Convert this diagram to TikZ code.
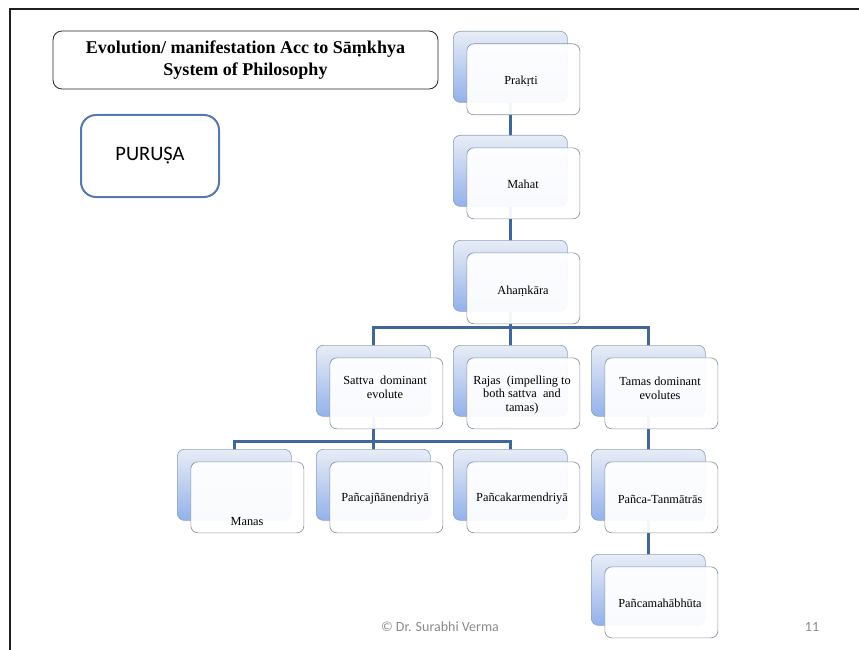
\documentclass[tikz,border=0pt]{standalone}
\usepackage{fontspec}
\setmainfont{Liberation Serif}
\newfontfamily\calib{Carlito}
\usetikzlibrary{backgrounds}
\definecolor{conncol}{HTML}{41679A}
\definecolor{backtop}{HTML}{E8EDF6}
\definecolor{backbot}{HTML}{93B1EA}
\definecolor{backline}{HTML}{8FA2C2}
\definecolor{frontline}{HTML}{8A96A6}
\definecolor{purline}{HTML}{5579AD}
\definecolor{footgray}{HTML}{8A8A8A}
\tikzset{
  backbox/.style={rounded corners=7pt, draw=backline, line width=0.7pt,
    top color=backtop, bottom color=backbot, minimum width=114pt,
    minimum height=71pt, inner sep=0pt, anchor=north west},
  frontbox/.style={rounded corners=7pt, draw=frontline, line width=0.7pt,
    fill=white, fill opacity=0.94, minimum width=113pt,
    minimum height=71pt, inner sep=0pt, anchor=north west},
  lbl/.style={font=\fontsize{12.3}{13.8}\selectfont, align=center, inner sep=0pt},
  conn/.style={draw=conncol, line width=3pt},
}
\begin{document}
\begin{tikzpicture}[x=1pt,y=-1pt]
\useasboundingbox (0,0) rectangle (859,650);
% slide frame
\draw[line width=2.2pt, black!88] (10,652) -- (10,9) -- (861,9);

% title and purusa
\node[draw=black!85, line width=0.8pt, rounded corners=9pt, minimum width=385pt,
  minimum height=58pt, inner sep=0pt, align=center,
  font=\bfseries\fontsize{18}{21.6}\selectfont] (title) at (245.5,60)
  {Evolution/ manifestation Acc to Sāṃkhya\\System of Philosophy};
\node[draw=purline, line width=2pt, rounded corners=15pt, minimum width=138pt,
  minimum height=82pt, inner sep=0pt, fill=white,
  font=\calib\fontsize{20.5}{24}\selectfont] (purusa) at (150,156) {PURUṢA};

% back boxes
\node[backbox] (pb)   at (453,31)  {};
\node[backbox] (mb)   at (453,135) {};
\node[backbox] (ab)   at (453,240) {};
\node[backbox] (sb)   at (316,345) {};
\node[backbox] (rb)   at (453,345) {};
\node[backbox] (tb)   at (591,345) {};
\node[backbox] (manb) at (177,449) {};
\node[backbox] (jnab) at (316,449) {};
\node[backbox] (karb) at (453,449) {};
\node[backbox] (tanb) at (591,449) {};
\node[backbox] (mhbb) at (591,554) {};

% front boxes
\node[frontbox] (pf)   at (466.5,43.5)  {};
\node[frontbox] (mf)   at (466.5,147.5) {};
\node[frontbox] (af)   at (466.5,252.5) {};
\node[frontbox] (sf)   at (329.5,357.5) {};
\node[frontbox] (rf)   at (466.5,357.5) {};
\node[frontbox] (tf)   at (604.5,357.5) {};
\node[frontbox] (manf) at (190.5,461.5) {};
\node[frontbox] (jnaf) at (329.5,461.5) {};
\node[frontbox] (karf) at (466.5,461.5) {};
\node[frontbox] (tanf) at (604.5,461.5) {};
\node[frontbox] (mhbf) at (604.5,566.5) {};

% labels
\node[lbl] (lp)   at (521,81)  {Prakṛti};
\node[lbl] (lm)   at (523,184) {Mahat};
\node[lbl] (la)   at (523,291) {Ahaṃkāra};
\node[lbl] (ls)   at (385,387) {Sattva\ \ dominant\\evolute};
\node[lbl] (lr)   at (522,395) {Rajas\ \ (impelling to\\both sattva\ \ and\\tamas)};
\node[lbl] (lt)   at (660,388) {Tamas dominant\\evolutes};
\node[lbl] (lman) at (247,522) {Manas};
\node[lbl] (ljna) at (385,499) {Pañcajñānendriyā};
\node[lbl] (lkar) at (522,499) {Pañcakarmendriyā};
\node[lbl] (ltan) at (660,499) {Pañca-Tanmātrās};
\node[lbl] (lmhb) at (660,603) {Pañcamahābhūta};

% footer
\node[font=\calib\fontsize{14}{16}\selectfont, text=footgray, inner sep=0pt] (foot) at (440,627) {© Dr. Surabhi Verma};
\node[font=\calib\fontsize{14}{16}\selectfont, text=footgray, inner sep=0pt] (pg) at (812,627) {11};

% connectors
\coordinate (bus1) at (0,327);
\coordinate (bus2) at (0,441);
\begin{pgfonlayer}{background}
\draw[conn] (pb.center) -- (mb.center);
\draw[conn] (mb.center) -- (ab.center);
\draw[conn] (ab.center) -- (rb.center);
\draw[conn] (sb.center) -- (sb.center |- bus1) -- (tb.center |- bus1) -- (tb.center);
\draw[conn] (sb.center) -- (jnab.center);
\draw[conn] (manb.center) -- (manb.center |- bus2) -- (karb.center |- bus2) -- (karb.center);
\draw[conn] (tb.center) -- (tanb.center);
\draw[conn] (tanb.center) -- (mhbb.center);
\end{pgfonlayer}
\end{tikzpicture}
\end{document}
